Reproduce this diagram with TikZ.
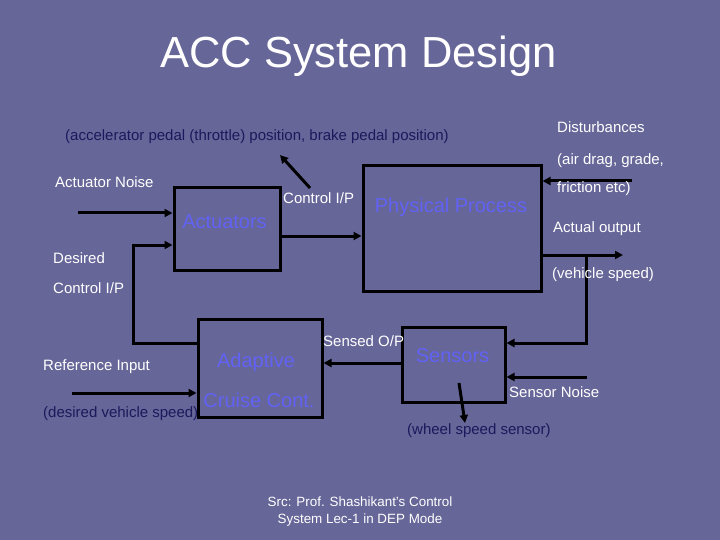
\documentclass[tikz,border=0pt]{standalone}
\usepackage{fontspec}
\setmainfont{Liberation Sans}
\usetikzlibrary{arrows.meta}
\definecolor{bg}{RGB}{102,102,153}
\definecolor{bluetxt}{RGB}{98,98,245}
\definecolor{navytxt}{RGB}{26,26,92}
\begin{document}
\begin{tikzpicture}[x=1pt,y=-1pt,
  blk/.style={draw=black,line width=3pt,inner sep=0pt},
  wire/.style={line width=3pt,-{Triangle[length=8pt,width=8pt]}},
  lbl/.style={text=white,font=\fontsize{15}{17}\selectfont,inner sep=0pt,anchor=base west},
  note/.style={text=navytxt,font=\fontsize{15}{17}\selectfont,inner sep=0pt,anchor=base west},
  blu/.style={text=bluetxt,font=\fontsize{20}{22}\selectfont,inner sep=0pt,anchor=base},
  src/.style={text=white,font=\fontsize{13.4}{17}\selectfont,inner sep=0pt,align=center}]
\fill[bg] (0,0) rectangle (720,540);
\useasboundingbox (0,0) rectangle (720,540);

% title
\node[text=white,font=\fontsize{43.5}{48}\selectfont,inner sep=0pt,anchor=base] (title) at (358.5,68) {ACC System Design};

% boxes
\node[blk,minimum width=106pt,minimum height=82pt] (act) at (227,229) {};
\node[blk,minimum width=178pt,minimum height=125pt] (pp) at (452,228.5) {};
\node[blk,minimum width=124pt,minimum height=98pt] (acc) at (260,368) {};
\node[blk,minimum width=103pt,minimum height=75pt] (sen) at (453.5,364.5) {};

% box texts
\node[blu] (tact) at (224.5,229) {Actuators};
\node[blu] (tpp) at (451,213) {Physical Process};
\node[blu] (tacc1) at (256,367) {Adaptive};
\node[blu] (tacc2) at (259,407) {Cruise Cont.};
\node[blu] (tsen) at (452.5,362) {Sensors};

% coordinates
\coordinate (an) at (78,213);
\coordinate (dc1) at (133,343);
\coordinate (dc2) at (133,245);
\coordinate (cip) at (0,236);
\coordinate (d0) at (310,188);
\coordinate (d1) at (280,155);
\coordinate (dist) at (632,181);
\coordinate (ao) at (623,255);
\coordinate (tap) at (586,255);
\coordinate (so) at (0,343);
\coordinate (snz) at (587,377);
\coordinate (sop) at (0,363);
\coordinate (ri) at (72,393);
\coordinate (w0) at (459,383);
\coordinate (w1) at (465,423);

% connectors
\draw[wire] (an) -- (act.west |- an);
\draw[wire] (acc.west |- dc1) -- (dc1) -- (dc2) -- (act.west |- dc2);
\draw[wire] (act.east |- cip) -- (pp.west |- cip);
\draw[wire] (d0) -- (d1);
\draw[wire] (dist) -- (pp.east |- dist);
\draw[wire] (pp.east |- ao) -- (ao);
\draw[wire] (tap) |- (sen.east |- so);
\draw[wire] (snz) -- (sen.east |- snz);
\draw[wire] (sen.west |- sop) -- (acc.east |- sop);
\draw[wire] (ri) -- (acc.west |- ri);
\draw[wire] (w0) -- (w1);

% labels
\node[note] (l1) at (65,141) {(accelerator pedal (throttle) position, brake pedal position)};
\node[lbl] (l2) at (557,133) {Disturbances};
\node[lbl] (l3) at (557,165) {(air drag, grade,};
\node[lbl] (l4) at (557,193) {friction etc)};
\node[lbl] (l5) at (553,233) {Actual output};
\node[lbl] (l6) at (552,278) {(vehicle speed)};
\node[lbl] (l7) at (55,188) {Actuator Noise};
\node[lbl] (l8) at (283,204) {Control I/P};
\node[lbl] (l9) at (53,263) {Desired};
\node[lbl] (l10) at (53,293) {Control I/P};
\node[lbl] (l11) at (43,370) {Reference Input};
\node[note] (l12) at (43,417) {(desired vehicle speed)};
\node[lbl] (l13) at (323,346) {Sensed O/P};
\node[lbl] (l14) at (509,397) {Sensor Noise};
\node[note] (l15) at (407,434) {(wheel speed sensor)};
\node[src] (s1) at (360,512) {Src: Prof. Shashikant's Control\\System Lec-1 in DEP Mode};
\end{tikzpicture}
\end{document}
